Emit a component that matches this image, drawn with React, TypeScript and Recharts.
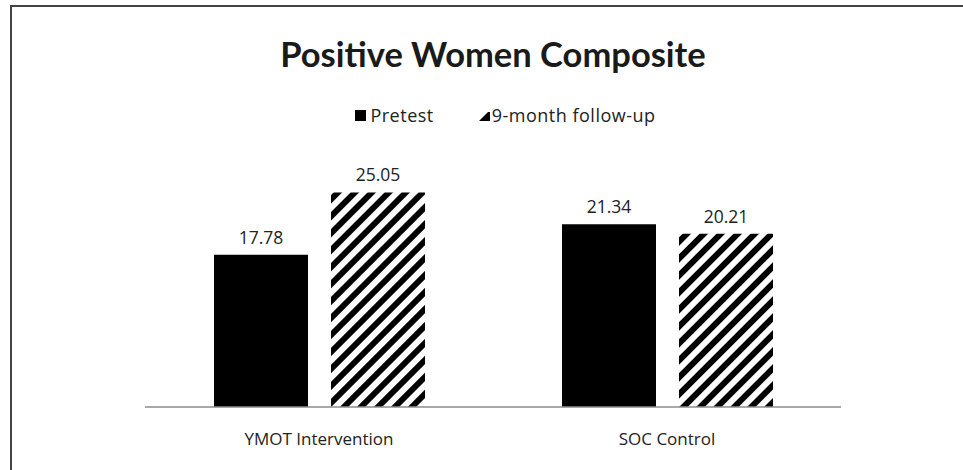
import React from "react";
import { BarChart, Bar, XAxis, YAxis, LabelList, Legend } from "recharts";

const categories = ["YMOT Intervention", "SOC Control"];
const pretest = [17.78, 21.34];
const followUp = [25.05, 20.21];
const seriesNames = ["Pretest", "9-month follow-up"];
const chartTitle = "Positive Women Composite";

const data = categories.map((c, i) => ({
  name: c,
  pretest: pretest[i],
  followUp: followUp[i],
}));

const TITLE_FONT = "Lato, 'Open Sans', sans-serif";
const FONT = "'Open Sans', Lato, sans-serif";

const LegendContent = () => (
  <div
    style={{
      display: "flex",
      justifyContent: "center",
      alignItems: "center",
      fontFamily: FONT,
      fontSize: 18,
      letterSpacing: 0.5,
      color: "#222",
    }}
  >
    <div style={{ display: "flex", alignItems: "center", marginRight: 44 }}>
      <svg width={11} height={11} style={{ marginRight: 4 }}>
        <rect width={11} height={11} fill="#000" />
      </svg>
      <span>{seriesNames[0]}</span>
    </div>
    <div style={{ display: "flex", alignItems: "center" }}>
      <svg width={12} height={11} style={{ marginRight: 2 }}>
        <path d="M1 11 L10 2 L12 2 L12 11 Z" fill="#000" />
      </svg>
      <span>{seriesNames[1]}</span>
    </div>
  </div>
);

export default function App() {
  return (
    <div style={{ position: "relative", width: 963, height: 470, background: "#fff" }}>
      <style>{"body{margin:0}"}</style>
      <div
        style={{
          position: "absolute",
          left: 10,
          top: 5,
          width: 953,
          height: 465,
          borderTop: "2px solid #444",
          borderLeft: "2px solid #444",
          boxSizing: "border-box",
        }}
      />
      <div
        style={{
          position: "absolute",
          left: 0,
          top: 34,
          width: 986,
          textAlign: "center",
          fontFamily: TITLE_FONT,
          fontWeight: 700,
          fontSize: 34.5,
          color: "#1a1a1a",
          lineHeight: "40px",
        }}
      >
        {chartTitle}
      </div>
      <BarChart
        width={963}
        height={470}
        data={data}
        margin={{ top: 150, right: 122, bottom: 0, left: 145 }}
        barSize={94}
        barGap={23}
        style={{ position: "absolute", left: 0, top: 0 }}
      >
        <defs>
          <pattern
            id="hatch"
            patternUnits="userSpaceOnUse"
            width={12}
            height={12}
            patternTransform="rotate(45)"
          >
            <rect width={12} height={12} fill="#fff" />
            <rect width={6} height={12} fill="#000" />
          </pattern>
        </defs>
        <XAxis
          dataKey="name"
          height={63}
          tickLine={false}
          axisLine={{ stroke: "#8c8c8c", strokeWidth: 1.5 }}
          tick={{ fontFamily: FONT, fontSize: 17, fill: "#222" }}
          tickMargin={20}
        />
        <YAxis hide domain={[0, 30]} width={0} />
        <Legend
          verticalAlign="middle"
          align="center"
          layout="horizontal"
          content={<LegendContent />}
          wrapperStyle={{ top: 103, left: 24, width: 963 }}
        />
        <Bar dataKey="pretest" name={seriesNames[0]} fill="#000" isAnimationActive={false}>
          <LabelList
            dataKey="pretest"
            position="top"
            offset={11}
            style={{ fontFamily: FONT, fontSize: 17.5, fill: "#222" }}
          />
        </Bar>
        <Bar dataKey="followUp" name={seriesNames[1]} fill="url(#hatch)" isAnimationActive={false}>
          <LabelList
            dataKey="followUp"
            position="top"
            offset={11}
            style={{ fontFamily: FONT, fontSize: 17.5, fill: "#222" }}
          />
        </Bar>
      </BarChart>
    </div>
  );
}
